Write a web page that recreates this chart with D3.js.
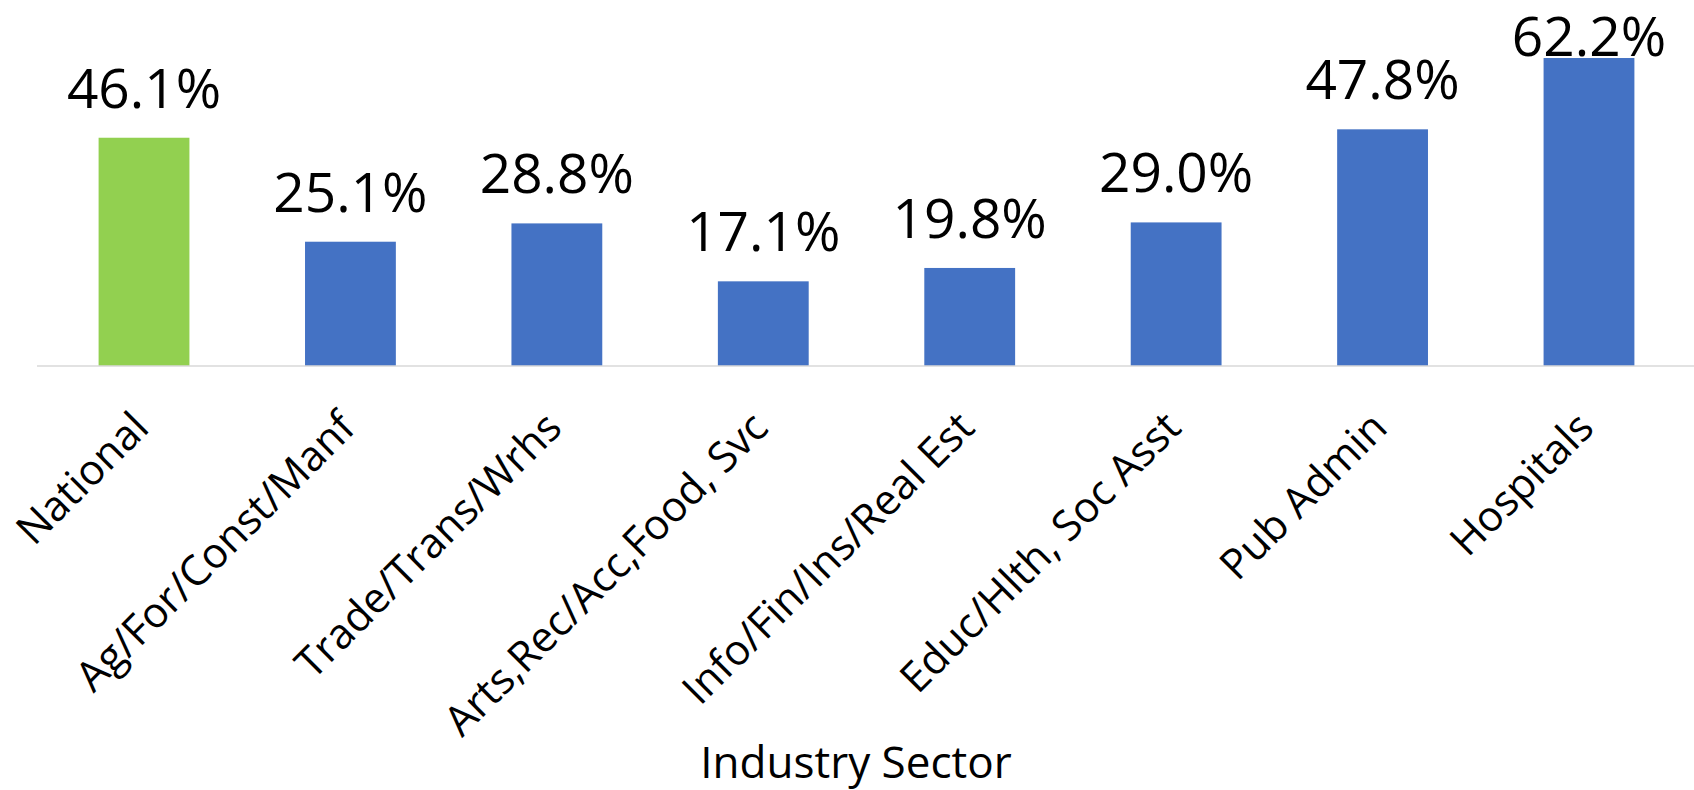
<!DOCTYPE html>
<html>
<head>
<meta charset="utf-8">
<script src="https://cdn.jsdelivr.net/npm/d3@7"></script>
<style>
  html, body { margin: 0; padding: 0; background: #ffffff; }
  svg { display: block; }
  text { font-family: "Open Sans", "DejaVu Sans", sans-serif; fill: #000; }
</style>
</head>
<body>
<svg id="chart" width="1694" height="790"></svg>
<script>
const categories = ["National", "Ag/For/Const/Manf", "Trade/Trans/Wrhs", "Arts,Rec/Acc,Food, Svc",
                    "Info/Fin/Ins/Real Est", "Educ/Hlth, Soc Asst", "Pub Admin", "Hospitals"];
const values = [46.1, 25.1, 28.8, 17.1, 19.8, 29.0, 47.8, 62.2];
const valueLabels = ["46.1%", "25.1%", "28.8%", "17.1%", "19.8%", "29.0%", "47.8%", "62.2%"];
const highlight = ["National"];
const xTitle = "Industry Sector";

const W = 1694, H = 790;
const svg = d3.select("#chart");

const x = d3.scaleBand().domain(categories).range([40.8, 1692.2]).paddingInner(0.56).paddingOuter(0.28);
const y = d3.scaleLinear().domain([0, 70]).range([366, 19.4]);

// bars
svg.append("g").selectAll("rect").data(categories).join("rect")
  .attr("x", d => x(d))
  .attr("width", x.bandwidth())
  .attr("y", (d, i) => y(values[i]))
  .attr("height", (d, i) => y(0) - y(values[i]))
  .attr("fill", d => highlight.includes(d) ? "#92D050" : "#4472C4");

// baseline axis
const xAxis = d3.axisBottom(x).tickSize(0).tickFormat("");
const ax = svg.append("g").attr("transform", `translate(0,${y(0)})`).call(xAxis);
ax.select(".domain").attr("d", `M37,0H${W}`).attr("stroke", "#D9D9D9").attr("stroke-width", 1.6);

// value labels
svg.append("g").selectAll("text").data(categories).join("text")
  .attr("x", d => x(d) + x.bandwidth() / 2)
  .attr("y", (d, i) => Math.max(y(values[i]) - 30, 56))
  .attr("text-anchor", "middle")
  .attr("font-size", 55)
  .text((d, i) => valueLabels[i]);

// category labels rotated
svg.append("g").selectAll("text").data(categories).join("text")
  .attr("transform", d => `translate(${x(d) + x.bandwidth() / 2 + 7},${y(0) + 64}) rotate(-45)`)
  .attr("text-anchor", "end")
  .attr("font-size", 42)
  .text(d => d);

// axis title
svg.append("text")
  .attr("x", 856)
  .attr("y", 778)
  .attr("text-anchor", "middle")
  .attr("font-size", 44)
  .text(xTitle);
</script>
</body>
</html>
